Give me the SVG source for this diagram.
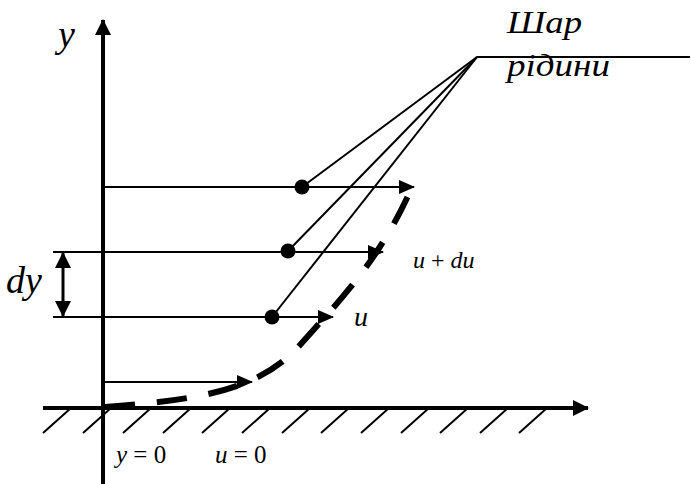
<svg xmlns="http://www.w3.org/2000/svg" width="691" height="484" viewBox="0 0 691 484">
<style>
text{font-family:'Liberation Serif','Times New Roman','DejaVu Serif',serif;fill:#000}
.i{font-style:italic}
.thin{stroke:#000;stroke-width:2;fill:none}
.axis{stroke:#000;stroke-width:4;fill:none}
.hatch{stroke:#000;stroke-width:2;fill:none}
</style>
<defs>
<marker id="ah" viewBox="0 0 16 14" refX="15" refY="7" markerWidth="16" markerHeight="14" markerUnits="userSpaceOnUse" orient="auto">
<path d="M0,0 L16,7 L0,14 Z" fill="#000"/>
</marker>
<marker id="axh" viewBox="0 0 16 16" refX="15" refY="8" markerWidth="16" markerHeight="16" markerUnits="userSpaceOnUse" orient="auto">
<path d="M0,0 L16,8 L0,16 Z" fill="#000"/>
</marker>
<marker id="dyh" viewBox="0 0 16 16" refX="15" refY="8" markerWidth="16" markerHeight="16" markerUnits="userSpaceOnUse" orient="auto-start-reverse">
<path d="M0,0 L16,8 L0,16 Z" fill="#000"/>
</marker>
</defs>
<g id="ground">
<g class="hatch">
<line x1="43" y1="433" x2="71" y2="408"/>
<line x1="83" y1="433" x2="111" y2="408"/>
<line x1="123" y1="433" x2="151" y2="408"/>
<line x1="163" y1="433" x2="191" y2="408"/>
<line x1="202" y1="433" x2="230" y2="408"/>
<line x1="242" y1="433" x2="270" y2="408"/>
<line x1="282" y1="433" x2="310" y2="408"/>
<line x1="321" y1="433" x2="349" y2="408"/>
<line x1="361" y1="433" x2="389" y2="408"/>
<line x1="401" y1="433" x2="429" y2="408"/>
<line x1="440" y1="433" x2="468" y2="408"/>
<line x1="480" y1="433" x2="508" y2="408"/>
<line x1="519" y1="433" x2="547" y2="408"/>
</g>
</g>
<g id="axes">
<line class="axis" x1="103" y1="484" x2="103" y2="20" marker-end="url(#axh)"/>
<line class="axis" x1="43" y1="408" x2="588" y2="408" marker-end="url(#axh)"/>
</g>
<g id="connectors">
<line class="thin" x1="103" y1="187" x2="414" y2="187" marker-end="url(#ah)"/>
<line class="thin" x1="53" y1="252" x2="383" y2="252" marker-end="url(#ah)"/>
<line class="thin" x1="53" y1="317" x2="333" y2="317" marker-end="url(#ah)"/>
<line class="thin" x1="103" y1="382" x2="252" y2="382" marker-end="url(#ah)"/>
<line class="thin" x1="477" y1="57" x2="302" y2="187"/>
<line class="thin" x1="477" y1="57" x2="288" y2="251"/>
<line class="thin" x1="477" y1="57" x2="272" y2="317"/>
<line class="thin" x1="477" y1="57" x2="690" y2="57"/>
<line x1="63" y1="253" x2="63" y2="316" stroke="#000" stroke-width="3" marker-start="url(#dyh)" marker-end="url(#dyh)"/>
<path d="M105,407 C200,400 260,390 300,345 S380,260 412,187" fill="none" stroke="#000" stroke-width="6" stroke-dasharray="30 22"/>
</g>
<g id="dots" fill="#000">
<circle cx="302" cy="187" r="7.5"/>
<circle cx="288" cy="251" r="7.5"/>
<circle cx="272" cy="317" r="7.5"/>
</g>
<g id="labels">
<text class="i" x="58" y="47" font-size="38">y</text>
<text class="i" x="507" y="33" font-size="31" textLength="75" lengthAdjust="spacingAndGlyphs">Шар</text>
<text class="i" x="507" y="76" font-size="31" textLength="103" lengthAdjust="spacingAndGlyphs">рідини</text>
<text class="i" x="6" y="293" font-size="38">dy</text>
<text x="413" y="268" font-size="24"><tspan class="i">u</tspan> + <tspan class="i">du</tspan></text>
<text class="i" x="354" y="326" font-size="28">u</text>
<text x="116" y="463" font-size="25"><tspan class="i">y</tspan> = 0</text>
<text x="215" y="463" font-size="25"><tspan class="i">u</tspan> = 0</text>
</g>
</svg>
